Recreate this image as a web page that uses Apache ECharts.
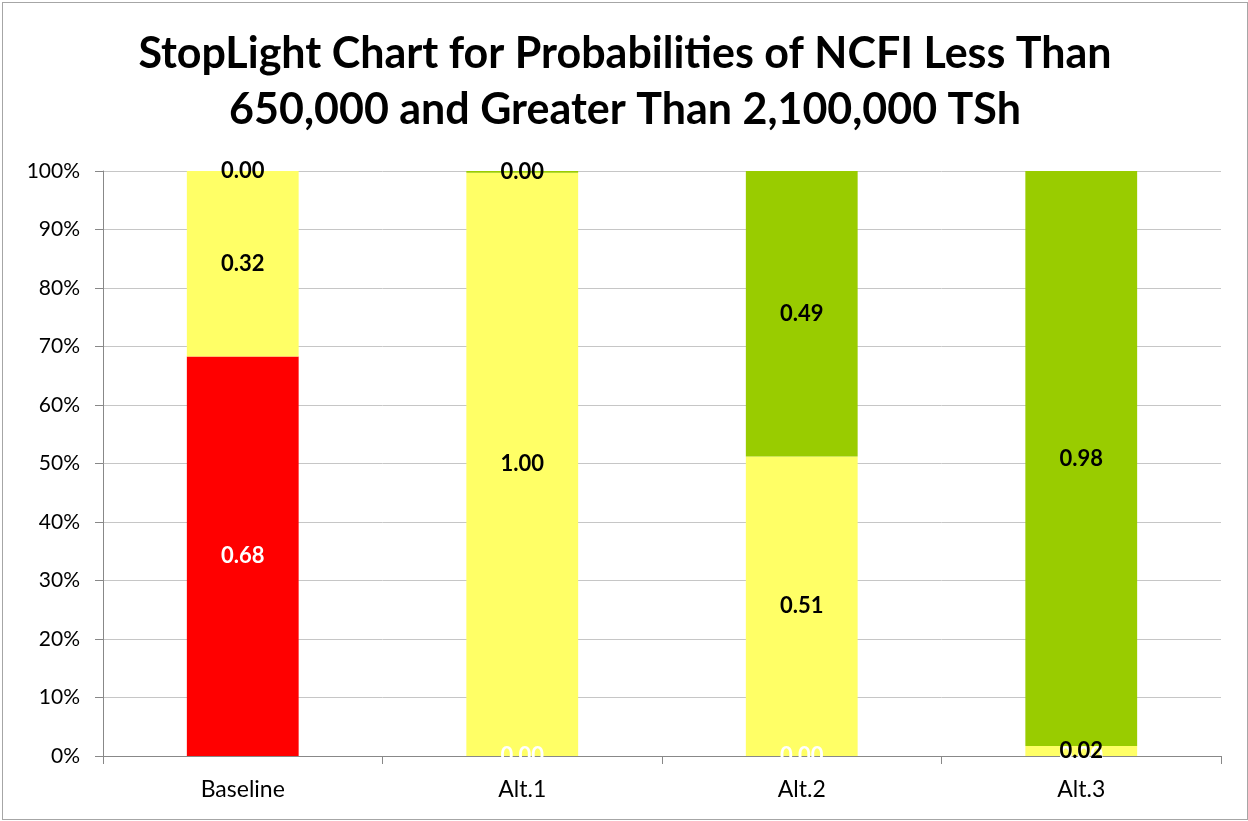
<!DOCTYPE html>
<html>
<head>
<meta charset="utf-8">
<title>StopLight Chart</title>
<script src="https://cdn.jsdelivr.net/npm/echarts@6/dist/echarts.min.js"></script>
<style>
  html, body { margin: 0; padding: 0; background: #fff; }
  #chart {
    position: absolute; left: 2px; top: 2px;
    width: 1244px; height: 816px;
    border: 1px solid #a6a6a6;
  }
</style>
</head>
<body>
<div id="chart"></div>
<script>
// categories and stacked probabilities
const categories = ['Baseline', 'Alt.1', 'Alt.2', 'Alt.3'];
const lessThan650k = [0.683, 0.0, 0.0, 0.0];       // red
const between = [0.317, 0.997, 0.512, 0.017];      // yellow
const greaterThan2100k = [0.0, 0.003, 0.488, 0.983]; // green
const titleLines = ['StopLight Chart for Probabilities of NCFI Less Than', '650,000 and Greater Than 2,100,000 TSh'];

const fontFamily = 'Lato, "Open Sans", sans-serif';

const chart = echarts.init(document.getElementById('chart'));

function makeSeries(name, data, color, labelColor) {
  return {
    name: name,
    type: 'bar',
    stack: 'total',
    data: data,
    barWidth: '40%',
    itemStyle: { color: color },
    label: {
      show: true,
      position: 'inside',
      color: labelColor,
      fontFamily: fontFamily,
      fontWeight: 'bold',
      fontSize: 22,
      formatter: p => p.value.toFixed(2)
    }
  };
}

const option = {
  animation: false,
  title: {
    text: titleLines.join('\n'),
    left: 'center',
    top: 18,
    textStyle: {
      fontFamily: fontFamily,
      fontWeight: 'bold',
      fontSize: 43,
      lineHeight: 56,
      color: '#000'
    }
  },
  grid: { left: 100, right: 26, top: 168, bottom: 63 },
  xAxis: {
    type: 'category',
    data: categories,
    axisLine: { lineStyle: { color: '#888', width: 1 } },
    axisTick: { show: true, length: 8, lineStyle: { color: '#888' } },
    axisLabel: { color: '#000', fontFamily: fontFamily, fontSize: 23, margin: 22 }
  },
  yAxis: {
    type: 'value',
    min: 0,
    max: 1,
    interval: 0.1,
    axisLine: { show: true, lineStyle: { color: '#888', width: 1 } },
    axisTick: { show: true, length: 8, lineStyle: { color: '#888' } },
    splitLine: { lineStyle: { color: '#c6c6c6' } },
    axisLabel: {
      color: '#000',
      fontFamily: fontFamily,
      fontSize: 21,
      margin: 23,
      formatter: v => Math.round(v * 100) + '%'
    }
  },
  series: [
    makeSeries('< 650,000', lessThan650k, '#ff0000', '#fff'),
    makeSeries('650,000 - 2,100,000', between, '#ffff66', '#000'),
    makeSeries('> 2,100,000', greaterThan2100k, '#99cc00', '#000')
  ]
};

chart.setOption(option);
</script>
</body>
</html>
